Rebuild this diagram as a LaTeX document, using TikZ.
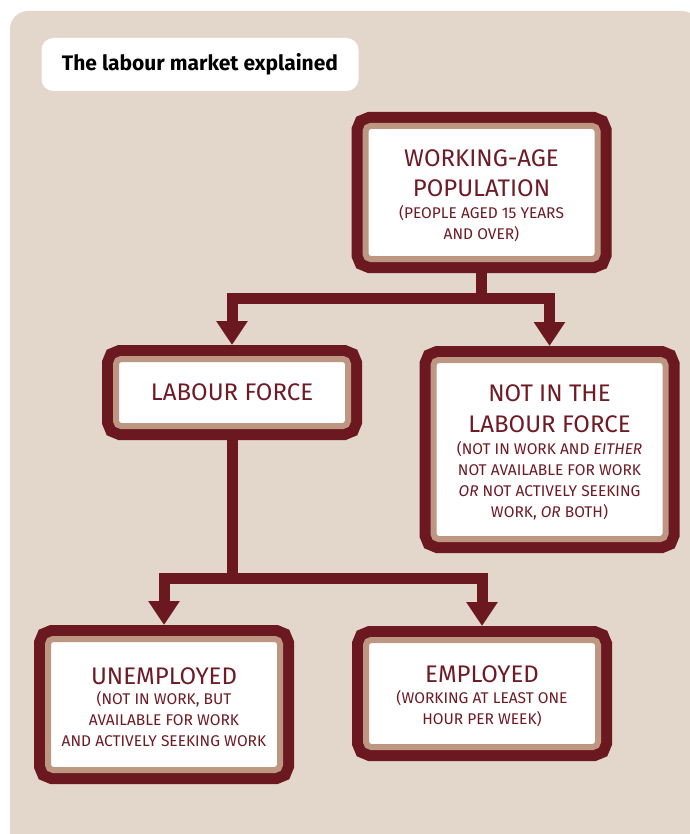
\documentclass[tikz,border=0pt]{standalone}
\usepackage{fontspec}
\setmainfont{Fira Sans}
\usepackage{tikz}
\usetikzlibrary{positioning,arrows.meta}
\usepackage{xcolor}

\definecolor{wine}{HTML}{6B1820}
\definecolor{winetext}{HTML}{6E1B26}
\definecolor{ring}{HTML}{BD9782}
\definecolor{paper}{HTML}{E3D7CB}

\newcommand{\headtxt}{\fontsize{24}{21}\selectfont}
\newcommand{\subtxt}{\fontsize{15.5}{21}\selectfont}
% taller first line, sets the text block a little lower in its box
\newcommand{\toplift}{\rule{0pt}{23pt}}

\begin{document}
\begin{tikzpicture}[
    x=1pt, y=-1pt,
    box/.style={rectangle, rounded corners=5pt, fill=white, draw=ring, line width=6pt,
        preaction={draw=wine, line width=28pt},
        minimum width=232pt, minimum height=#1, outer sep=14pt,
        align=center, text=winetext, font=\subtxt},
    arrow/.style={-{Triangle[width=30pt,length=24pt]}, draw=wine, line width=11pt},
    stem/.style={draw=wine, line width=11pt}
]
\useasboundingbox (0,0) rectangle (689,834);
\fill[white] (0,0) rectangle (689,834);
\fill[paper, rounded corners=18pt] (10,11) rectangle (700,850);

\node[fill=white, rounded corners=12pt, minimum width=317pt, minimum height=53pt,
      font=\fontsize{21}{26}\selectfont\bfseries] (title) at (200,64.5) {The labour market explained};

\node[box=133pt] (wap)  at (481.5,192.5) {\toplift\headtxt WORKING-AGE\\[9pt] \headtxt POPULATION\\[1pt] (PEOPLE AGED 15 YEARS\\ AND OVER)};
\node[box=67pt]  (lf)   at (232,392.5)   {\headtxt LABOUR FORCE};
\node[box=179pt] (nilf) at (549.5,449.5) {\toplift\headtxt NOT IN THE\\[10pt] \headtxt LABOUR FORCE\\[1pt] (NOT IN WORK AND \textit{EITHER}\\ NOT AVAILABLE FOR WORK\\ \textit{OR} NOT ACTIVELY SEEKING\\ WORK, \textit{OR} BOTH)};
\node[box=131pt] (une)  at (164,704.5)   {\toplift\headtxt UNEMPLOYED\\[-1pt] (NOT IN WORK, BUT\\ AVAILABLE FOR WORK\\ AND ACTIVELY SEEKING WORK};
\node[box=107pt] (emp)  at (482,693.5)   {\toplift\headtxt EMPLOYED\\[0pt] (WORKING AT LEAST ONE\\ HOUR PER WEEK)};

% branch points
\coordinate (split1) at (481.5,298);
\coordinate (split2) at (232,578);

\draw[stem] (wap.south) -- (split1);
\draw[arrow] (split1) -| (lf.north);
\draw[arrow] (split1) -| (nilf.north);

\draw[stem] (lf.south) -- (split2);
\draw[arrow] (split2) -| (une.north);
\draw[arrow] (split2) -| (emp.north);
\end{tikzpicture}
\end{document}
